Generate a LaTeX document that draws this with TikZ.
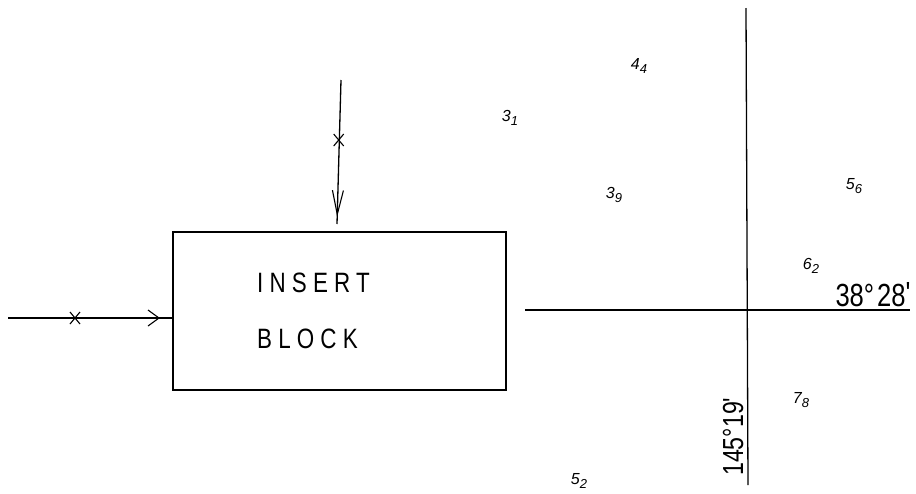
\documentclass[tikz,border=0pt]{standalone}
\usepackage{fontspec}
\usetikzlibrary{arrows.meta,decorations.markings}
\newfontfamily\hand[FakeStretch=0.8]{Liberation Sans}
\newfontfamily\handsp[FakeStretch=0.8,LetterSpace=22]{Liberation Sans}
\newfontfamily\handlab{Liberation Sans}
\newcommand{\lab}[2]{{\handlab\itshape\fontsize{16}{16}\selectfont #1\raisebox{-4pt}{\fontsize{13}{13}\selectfont #2}}}
\tikzset{
  ln/.style={line width=1.3pt},
  blockbox/.style={draw, line width=1.5pt, minimum width=333pt, minimum height=158pt, inner sep=0pt},
  cross/.style={line width=1.1pt},
  numlab/.style={inner sep=0pt, anchor=center},
  midarrow/.style 2 args={postaction={decorate}, decoration={markings, mark=at position #1 with {\arrow[line width=1.1pt]{Straight Barb[#2]}}}}
}
\begin{document}
\begin{tikzpicture}[x=1pt,y=-1pt]
\useasboundingbox (0,0) rectangle (916,493);
% block
\node[blockbox] (blk) at (339.5,311) {};
\node[inner sep=0pt, anchor=base west] (t1) at (257,292) {\handsp\fontsize{28}{28}\selectfont INSERT};
\node[inner sep=0pt, anchor=base west] (t2) at (257,348) {\handsp\fontsize{28}{28}\selectfont BLOCK};
% left input
\coordinate (inL) at (8,318);
\draw[ln, midarrow={0.925}{length=11pt,width=16pt}] (inL) -- (inL -| blk.west);
\coordinate (xL) at (75,318);
\draw[cross] ([shift={(-5,-6)}]xL) -- ([shift={(5,6)}]xL) ([shift={(-5,6)}]xL) -- ([shift={(5,-6)}]xL);
% top input
\coordinate (inT) at (341,80);
\coordinate (endT) at (337,224);
\draw[ln, midarrow={0.95}{length=24pt,width=11pt}] (inT) -- (endT);
\coordinate (xT) at (338.7,140);
\draw[cross] ([shift={(-5,-6)}]xT) -- ([shift={(5,6)}]xT) ([shift={(-5,6)}]xT) -- ([shift={(5,-6)}]xT);
% axes
\coordinate (hA) at (525,310);
\coordinate (hB) at (910,310);
\coordinate (vA) at (746,8);
\coordinate (vB) at (748,485);
\draw[ln] (hA) -- (hB);
\draw[ln] (vA) -- (vB);
\node[inner sep=0pt, anchor=base east] (lat) at (912,306) {\hand\fontsize{32}{32}\selectfont 38°\kern3pt28\raisebox{2pt}{\textquotesingle}};
\node[inner sep=0pt, anchor=base west, rotate=90] (lon) at (743,476) {\hand\fontsize{29}{29}\selectfont 145°19\textquotesingle};
% numbers
\node[numlab] (n44) at (639,66) {\lab{4}{4}};
\node[numlab] (n31) at (510,118) {\lab{3}{1}};
\node[numlab] (n39) at (614,195) {\lab{3}{9}};
\node[numlab] (n56) at (854,186) {\lab{5}{6}};
\node[numlab] (n62) at (811,266) {\lab{6}{2}};
\node[numlab] (n78) at (801,400) {\lab{7}{8}};
\node[numlab] (n52) at (579,481) {\lab{5}{2}};
\end{tikzpicture}
\end{document}
